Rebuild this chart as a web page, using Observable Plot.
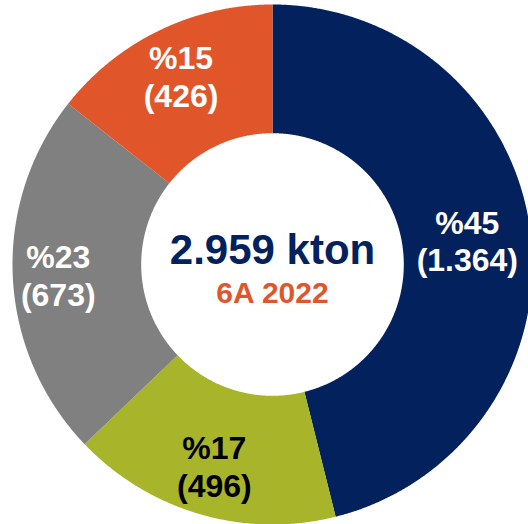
<!DOCTYPE html>
<html>
<head>
<meta charset="utf-8">
<script src="https://cdn.jsdelivr.net/npm/d3@7"></script>
<script src="https://cdn.jsdelivr.net/npm/@observablehq/plot@0.6"></script>
<style>
  html, body { margin: 0; padding: 0; background: #ffffff; }
  #chart { width: 528px; height: 524px; overflow: hidden; }
</style>
</head>
<body>
<div id="chart"></div>
<script>
// ---- data ----
const categories = ["navy", "green", "gray", "orange"];
const values = [1364, 496, 673, 426];
const percentLabels = ["%45", "%17", "%23", "%15"];
const valueLabels = ["(1.364)", "(496)", "(673)", "(426)"];
const totalLabel = "2.959 kton";
const periodLabel = "6A 2022";

// ---- styles ----
const palette = {navy: "#03215D", green: "#A8B52B", gray: "#808080", orange: "#E0562A"};
const labelColor = {navy: "#ffffff", green: "#000000", gray: "#ffffff", orange: "#ffffff"};
const W = 528, H = 524;
const cx = 272, cy = 264, R = 260;   // pixel geometry
const innerRatio = 0.505;
const labelRatio = {navy: 0.755, green: 0.805, gray: 0.825, orange: 0.805};

// ---- layout via d3.pie (angles clockwise from 12 o'clock) ----
const arcs = d3.pie().sort(null).value(d => d)(values);
const polyPoints = [];
const labelRows = [];
arcs.forEach((a, i) => {
  const key = categories[i];
  const step = Math.PI / 720;
  const n = Math.max(2, Math.ceil((a.endAngle - a.startAngle) / step));
  for (let k = 0; k <= n; k++) {
    const t = a.startAngle + (a.endAngle - a.startAngle) * k / n;
    polyPoints.push({key, color: palette[key], x: Math.sin(t), y: Math.cos(t)});
  }
  for (let k = n; k >= 0; k--) {
    const t = a.startAngle + (a.endAngle - a.startAngle) * k / n;
    polyPoints.push({key, color: palette[key], x: innerRatio * Math.sin(t), y: innerRatio * Math.cos(t)});
  }
  const mid = (a.startAngle + a.endAngle) / 2;
  const lr = labelRatio[key];
  labelRows.push({
    key,
    text: percentLabels[i] + "\n" + valueLabels[i],
    fill: labelColor[key],
    x: lr * Math.sin(mid),
    y: lr * Math.cos(mid)
  });
});

const chart = Plot.plot({
  width: W,
  height: H,
  margin: 0,
  x: {domain: [-cx / R, (W - cx) / R], axis: null},
  y: {domain: [-(H - cy) / R, cy / R], axis: null},
  color: {type: "identity"},
  style: {background: "#ffffff", fontFamily: "'Liberation Sans', Arial, sans-serif"},
  marks: [
    Plot.line(polyPoints, {x: "x", y: "y", z: "key", fill: "color", stroke: "none", curve: "linear"}),
    Plot.text(labelRows, {
      x: "x", y: "y", text: "text", fill: "fill",
      fontSize: 32, fontWeight: "bold", lineHeight: 1.18, textAnchor: "middle"
    }),
    Plot.text([totalLabel], {
      x: () => 0, y: () => 0, text: d => d, dy: -14,
      fill: palette.navy, fontSize: 42, fontWeight: "bold", textAnchor: "middle"
    }),
    Plot.text([periodLabel], {
      x: () => 0, y: () => 0, text: d => d, dy: 29,
      fill: palette.orange, fontSize: 30, fontWeight: "bold", textAnchor: "middle"
    })
  ]
});
document.getElementById("chart").appendChild(chart);
</script>
</body>
</html>
